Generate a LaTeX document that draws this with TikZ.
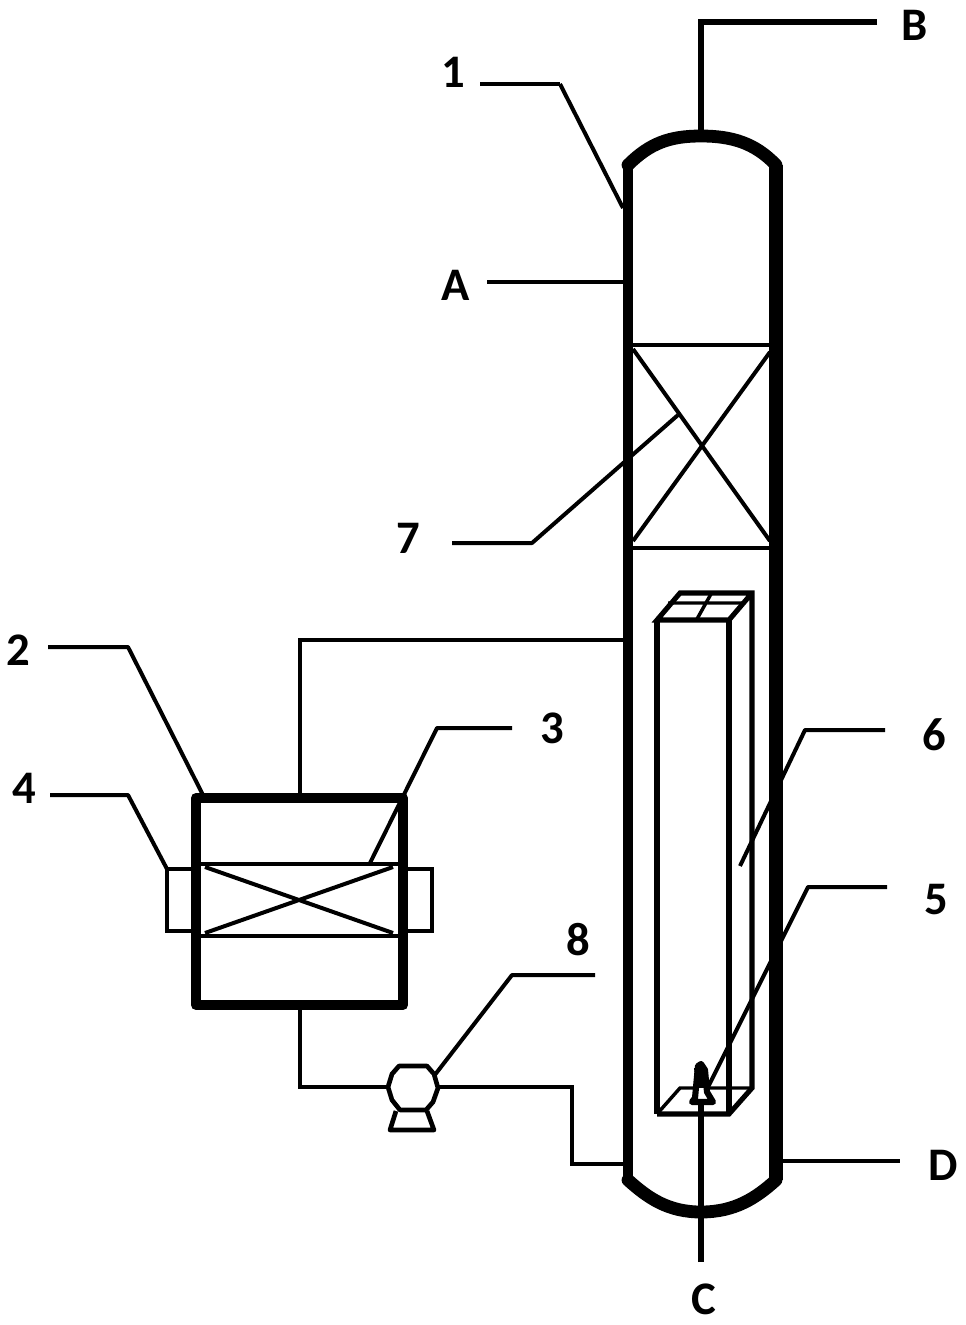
\documentclass[tikz,border=0pt]{standalone}
\usepackage{fontspec}
\setmainfont{Carlito}
\begin{document}
\begin{tikzpicture}[x=0.75pt,y=-0.75pt,
  wall/.style={line width=7.5pt,line join=round,line cap=butt},
  shell/.style={line width=8pt,line join=round},
  dome/.style={line width=9.6pt,line join=round,line cap=round},
  pipe/.style={line width=3.5pt,line join=miter},
  leader/.style={line width=3pt,line join=round},
  thin part/.style={line width=2.6pt,line join=miter},
  inner box/.style={line width=3.8pt,line join=miter},
  lab/.style={font=\bfseries\fontsize{35}{35}\selectfont,inner sep=0pt}]
\useasboundingbox (0,0) rectangle (965,1325);
% column points
\coordinate (colTL) at (628,165); \coordinate (colTR) at (776,165);
\coordinate (colBL) at (628,1180); \coordinate (colBR) at (776,1180);
\coordinate (colTop) at (701,136); \coordinate (colBot) at (701,1212);
% labels
\node[lab] (n1) at (453,72) {1};
\node[lab] (nA) at (456,285) {A};
\node[lab] (nB) at (915,25) {B};
\node[lab] (n7) at (408,538) {7};
\node[lab] (n2) at (18,650) {2};
\node[lab] (n3) at (552,728) {3};
\node[lab] (n4) at (24,788) {4};
\node[lab] (n6) at (934,735) {6};
\node[lab] (n5) at (936,900) {5};
\node[lab] (n8) at (578,940) {8};
\node[lab] (nD) at (943,1165) {D};
\node[lab] (nC) at (704,1299) {C};
% leaders
\coordinate (l1a) at (480,84); \coordinate (l1b) at (560,84); \coordinate (l1c) at (623,208);
\draw[pipe] (l1a) -- (l1b);
\draw[leader] (l1b) -- (l1c);
\coordinate (lAa) at (487,282); \coordinate (lAb) at (624,282);
\draw[pipe] (lAa) -- (lAb);
\coordinate (lBa) at (877,22); \coordinate (lBb) at (701,22);
\draw[pipe,line width=4pt] (lBa) -- (lBb) -- (colTop);
\coordinate (l7a) at (452,543); \coordinate (l7b) at (532,543); \coordinate (l7c) at (678,415);
\draw[leader] (l7a) -- (l7b) -- (l7c);
\coordinate (l2a) at (48,647); \coordinate (l2b) at (128,647); \coordinate (l2c) at (203,795);
\draw[leader] (l2a) -- (l2b) -- (l2c);
\coordinate (l3a) at (512,728); \coordinate (l3b) at (437,728); \coordinate (l3c) at (370,863);
\draw[leader] (l3a) -- (l3b) -- (l3c);
\coordinate (l4a) at (50,795); \coordinate (l4b) at (128,795); \coordinate (l4c) at (167,869);
\draw[leader] (l4a) -- (l4b) -- (l4c);
\coordinate (l6a) at (885,730); \coordinate (l6b) at (805,730); \coordinate (l6c) at (740,866);
\draw[leader] (l6a) -- (l6b) -- (l6c);
\coordinate (l5a) at (887,887); \coordinate (l5b) at (808,887); \coordinate (l5c) at (708,1087);
\draw[leader] (l5a) -- (l5b) -- (l5c);
\coordinate (l8a) at (595,975); \coordinate (l8b) at (512,975); \coordinate (l8c) at (434,1076);
\draw[leader] (l8a) -- (l8b) -- (l8c);
% column shell
\draw[dome] (colTL) .. controls (650,143) and (670,136) .. (colTop)
  .. controls (732,136) and (755,143) .. (colTR);
\draw[dome] (colBR) .. controls (756,1198) and (735,1212) .. (colBot)
  .. controls (668,1212) and (648,1198) .. (colBL);
\draw[shell] (colBL) -- (colTL);
\draw[shell,line width=10pt] (colTR) -- (colBR);
% packing
\coordinate (pTL) at (628,345); \coordinate (pTR) at (776,345);
\coordinate (pBL) at (628,548); \coordinate (pBR) at (776,548);
\draw[pipe] (pTL) -- (pTR) (pBL) -- (pBR);
\coordinate (xa) at (633,349); \coordinate (xb) at (770,541);
\coordinate (xc) at (770,352); \coordinate (xd) at (633,541);
\draw[leader] (xa) -- (xb) (xc) -- (xd);
% small tanks 4
\coordinate (e1) at (191,869); \coordinate (e2) at (167,869); \coordinate (e3) at (167,931); \coordinate (e4) at (191,931);
\draw[thin part] (e1) -- (e2) -- (e3) -- (e4);
\coordinate (f1) at (408,869); \coordinate (f2) at (432,869); \coordinate (f3) at (432,931); \coordinate (f4) at (408,931);
\draw[thin part] (f1) -- (f2) -- (f3) -- (f4);
% tank 2
\coordinate (tTL) at (196,798); \coordinate (tBR) at (403,1005);
\draw[wall] (tTL) rectangle (tBR);
\coordinate (tTop) at (300,794); \coordinate (tBot) at (300,1009);
\coordinate (g1) at (198,864); \coordinate (g2) at (401,864); \coordinate (g3) at (198,936); \coordinate (g4) at (401,936);
\draw[pipe] (g1) -- (g2) (g3) -- (g4);
\coordinate (h1) at (205,867); \coordinate (h2) at (393,933); \coordinate (h3) at (393,867); \coordinate (h4) at (205,933);
\draw[leader] (h1) -- (h2) (h3) -- (h4);
% pipes
\coordinate (p1) at (624,640); \coordinate (p2) at (300,640);
\draw[pipe] (p1) -- (p2) -- (tTop);
% pump
\coordinate (q1) at (388,1087); \coordinate (q2) at (300,1087);
\draw[pipe] (tBot) -- (q2) -- (q1);
\coordinate (q3) at (438,1087); \coordinate (q4) at (572,1087); \coordinate (q5) at (572,1164); \coordinate (q6) at (624,1164);
\draw[pipe] (q3) -- (q4) -- (q5) -- (q6);
\draw[pipe,line join=round] (399,1066) -- (427,1066) -- (434,1074) -- (438,1088) -- (433,1102) -- (426,1110) -- (400,1110) -- (392,1100) -- (388,1087) -- (392,1074) -- cycle;
\draw[pipe,line join=round] (396,1111) -- (390,1130) -- (434,1130) -- (427,1111);
% D
\coordinate (da) at (782,1161); \coordinate (db) at (900,1161);
\draw[pipe] (da) -- (db);
% reactor box
\coordinate (bA) at (657,620); \coordinate (bB) at (729,620); \coordinate (bC) at (729,1114); \coordinate (bD) at (657,1114);
\coordinate (bE) at (680,593); \coordinate (bF) at (752,593); \coordinate (bG) at (752,1088); \coordinate (bH) at (680,1088);
\draw[inner box,line width=5pt] (bA) -- (bD);
\draw[inner box,line width=5pt] (bB) -- (bC);
\draw[inner box] (bD) -- (bC) -- (bG) -- (bF) -- (bE) -- (bA) -- (bB) -- (bF);
\draw[thin part] (bD) -- (bH) -- (bG);
\coordinate (c1) at (668,603); \coordinate (c2) at (744,603); \coordinate (c3) at (711,594); \coordinate (c4) at (697,619);
\draw[thin part] (c1) -- (c2) (c3) -- (c4);
% C pipe and burner
\coordinate (ca) at (701,1262); \coordinate (cb) at (701,1104);
\draw[line width=4.6pt] (ca) -- (cb);
\draw[line width=4.6pt,line join=round,fill=white] (701,1064) -- (698,1066) -- (695,1098) -- (692,1102) -- (713,1102) -- (707,1092) -- (705,1070) -- cycle;
\draw[line width=3pt] (696,1086) -- (708,1086);
\fill (694,1068) -- (706,1068) -- (704,1084) -- (696,1084) -- cycle;
\end{tikzpicture}
\end{document}
